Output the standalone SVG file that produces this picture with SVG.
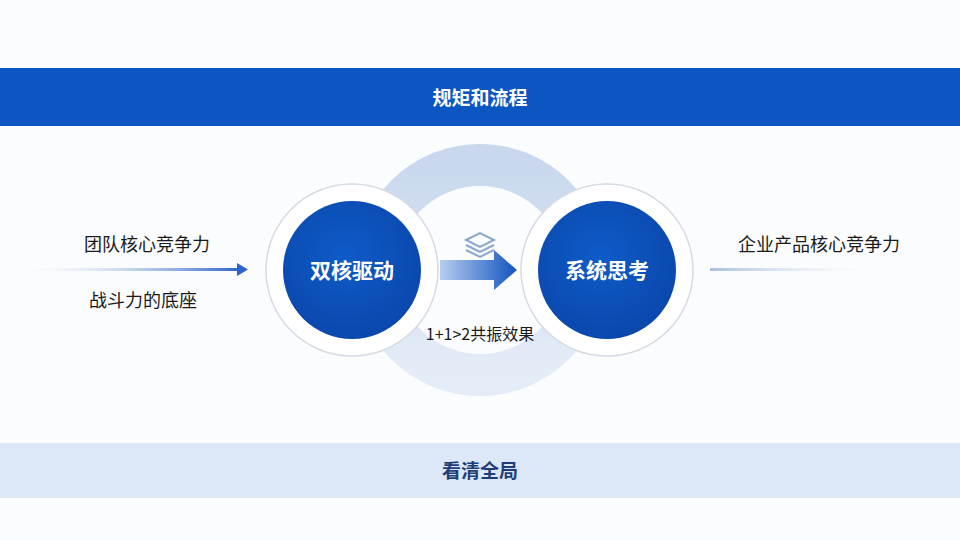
<svg xmlns="http://www.w3.org/2000/svg" width="960" height="540" viewBox="0 0 960 540">
<style>
text{font-family:"Noto Sans CJK SC","Liberation Sans",sans-serif}
.lbl{font-size:18px;fill:#1a1a1a}
.core{font-size:21px;font-weight:bold;fill:#fff}
</style>
<defs>
<linearGradient id="ring" x1="0" y1="0" x2="0" y2="1"><stop offset="0" stop-color="#c9d8ee"/><stop offset="1" stop-color="#e4ecf7"/></linearGradient>
<linearGradient id="arr" x1="0" y1="0" x2="1" y2="0"><stop offset="0" stop-color="#b7cdef"/><stop offset="1" stop-color="#1254c0"/></linearGradient>
<linearGradient id="la" x1="0" y1="0" x2="1" y2="0"><stop offset="0" stop-color="#ffffff" stop-opacity="0"/><stop offset="1" stop-color="#2a64c6"/></linearGradient>
<linearGradient id="ra" x1="0" y1="0" x2="1" y2="0"><stop offset="0" stop-color="#a9bfe0"/><stop offset="1" stop-color="#ffffff" stop-opacity="0"/></linearGradient>
<radialGradient id="blue" cx="0.45" cy="0.4" r="0.6"><stop offset="0" stop-color="#0f5bc8"/><stop offset="1" stop-color="#0a48ad"/></radialGradient>
</defs>
<rect width="960" height="540" fill="#fbfcfd"/>
<g id="top-bar"><rect x="0" y="68" width="960" height="58" fill="#0b56c3"/><text x="480" y="105" text-anchor="middle" font-size="19" font-weight="bold" fill="#fff">规矩和流程</text></g>
<g id="bottom-bar"><rect x="0" y="443" width="960" height="55" fill="#dce7f7"/><text x="480" y="478" text-anchor="middle" font-size="19" font-weight="bold" fill="#1d3e7a">看清全局</text></g>
<g id="ring-bg"><circle cx="480" cy="270" r="105" fill="none" stroke="url(#ring)" stroke-width="42"/></g>
<g id="connectors">
<rect x="10" y="268" width="230" height="3" fill="url(#la)"/>
<polygon points="237,263 248,269.5 237,276" fill="#2a64c6"/>
<rect x="710" y="268" width="180" height="3" fill="url(#ra)"/>
<polygon points="440,260 494,260 494,250 517,270 494,290 494,280 440,280" fill="url(#arr)"/>
</g>
<g id="node-left"><circle cx="352" cy="270" r="86" fill="#fff" stroke="#d5dbe4" stroke-width="1.5"/><circle cx="352" cy="270" r="69" fill="url(#blue)"/><text x="352" y="278" text-anchor="middle" class="core">双核驱动</text></g>
<g id="node-right"><circle cx="607" cy="270" r="86" fill="#fff" stroke="#d5dbe4" stroke-width="1.5"/><circle cx="607" cy="270" r="69" fill="url(#blue)"/><text x="607" y="278" text-anchor="middle" class="core">系统思考</text></g>
<g id="icon" fill="none" stroke="#8aa6cf" stroke-width="2"><path d="M466 240 L480 233 L494 240 L480 247 Z"/><path d="M466 245 L480 252 L494 245"/><path d="M466 250 L480 257 L494 250"/></g>
<g id="labels">
<text x="84" y="251" class="lbl">团队核心竞争力</text>
<text x="89" y="307" class="lbl">战斗力的底座</text>
<text x="738" y="251" class="lbl">企业产品核心竞争力</text>
<text x="480" y="340" text-anchor="middle" font-size="16" fill="#1a1a1a">1+1&gt;2共振效果</text>
</g>
</svg>
